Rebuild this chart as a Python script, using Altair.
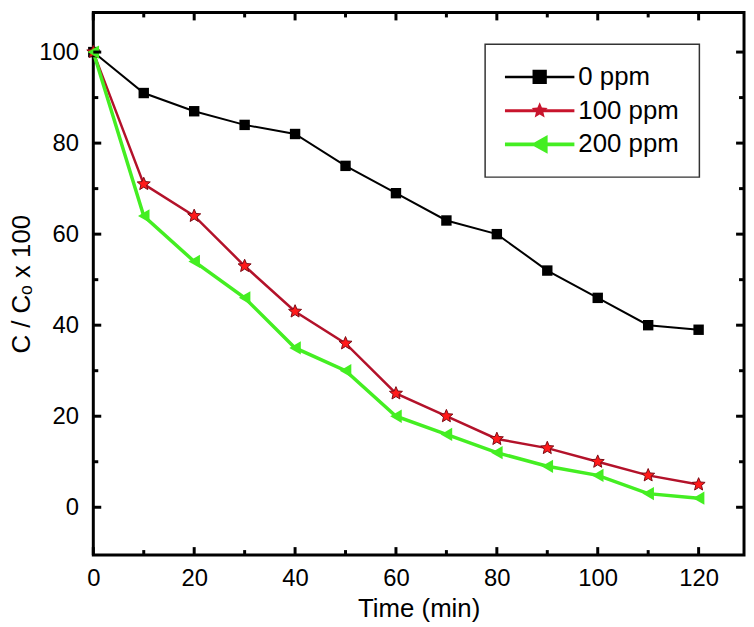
import altair as alt
import pandas as pd

# ---- data ----
time_min = [0, 10, 20, 30, 40, 50, 60, 70, 80, 90, 100, 110, 120]
series_names = ["0 ppm", "100 ppm", "200 ppm"]
c_0ppm = [100, 91, 87, 84, 82, 75, 69, 63, 60, 52, 46, 40, 39]
c_100ppm = [100, 71, 64, 53, 43, 36, 25, 20, 15, 13, 10, 7, 5]
c_200ppm = [100, 64, 54, 46, 35, 30, 20, 16, 12, 9, 7, 3, 2]
x_major_ticks = [0, 20, 40, 60, 80, 100, 120]
x_minor_ticks = [10, 30, 50, 70, 90, 110]
y_major_ticks = [0, 20, 40, 60, 80, 100]
y_minor_ticks = [10, 30, 50, 70, 90]

rows = []
for name, vals in zip(series_names, [c_0ppm, c_100ppm, c_200ppm]):
    for t, v in zip(time_min, vals):
        rows.append({"time": t, "value": v, "series": name})
df = pd.DataFrame(rows)

FONT = "Liberation Sans"
XDOM = [0, 129]
YDOM = [-10.5, 108.7]

# styles per series
line_colors = ["#000000", "#b3122a", "#44ee22"]
line_widths = [2, 2.5, 3.5]
STAR = ("M0,-1L0.265,-0.364L0.951,-0.309L0.428,0.139L0.588,0.809L0,0.45"
        "L-0.588,0.809L-0.428,0.139L-0.951,-0.309L-0.265,-0.364Z")
point_styles = [
    dict(shape="square", fill="#000000", size=110),
    dict(shape=STAR, fill="#ff1a1a", stroke="#7a0a14", strokeWidth=1, size=190),
    dict(shape="triangle-left", fill="#44ee22", size=180),
]
legend_colors = ["#000000", "#c8142c", "#44ee22"]
LEG_SQ = "M-3.5,-0.13H3.5V0.13H-3.5ZM-0.72,-0.72H0.72V0.72H-0.72Z"
LEG_STAR = ("M-3.5,-0.15H3.5V0.15H-3.5Z"
            "M0,-0.85L0.225,-0.309L0.808,-0.263L0.364,0.118L0.5,0.688L0,0.383"
            "L-0.5,0.688L-0.364,0.118L-0.808,-0.263L-0.225,-0.309Z")
LEG_TRI = "M-3.5,-0.18H3.5V0.18H-3.5ZM-0.9,0L0.8,-0.95L0.8,0.95Z"

xscale = alt.Scale(domain=XDOM, nice=False, zero=False)
yscale = alt.Scale(domain=YDOM, nice=False, zero=False)

x_bottom = alt.Axis(orient="bottom", values=x_major_ticks, ticks=False, tickSize=0,
                    domain=False, grid=False,
                    labelFont=FONT, labelFontSize=24, labelColor="black",
                    labelPadding=12, labelFlush=False, labelOverlap=False,
                    title="Time (min)", titleFont=FONT, titleFontSize=26,
                    titleFontWeight="normal", titleColor="black", titlePadding=5)
y_left = alt.Axis(orient="left", values=y_major_ticks, ticks=False, tickSize=0,
                  domain=False, grid=False,
                  labelFont=FONT, labelFontSize=24, labelColor="black",
                  labelPadding=15, labelFlush=False, labelOverlap=False,
                  title="C / Cₒ x 100", titleFont=FONT, titleFontSize=26,
                  titleFontWeight="normal", titleColor="black", titlePadding=4)


def X(ax):
    return alt.X("time:Q", scale=xscale, axis=ax)


def Y(ax):
    return alt.Y("value:Q", scale=yscale, axis=ax)


layers = []
base = alt.Chart(df)

# data lines (the first layer carries the visible axes)
for i, name in enumerate(series_names):
    sub = base.transform_filter(alt.datum.series == name)
    layers.append(sub.mark_line(color=line_colors[i], strokeWidth=line_widths[i]).encode(
        x=X(x_bottom if i == 0 else None), y=Y(y_left if i == 0 else None)))

# markers
for i, name in enumerate(series_names):
    sub = base.transform_filter(alt.datum.series == name)
    layers.append(sub.mark_point(filled=True, opacity=1, **point_styles[i]).encode(
        x=X(None), y=Y(None)))

# inward tick marks on all four sides (major 8px, minor 5px)
for vals, length in [(x_major_ticks, 8), (x_minor_ticks, 5)]:
    tdf = pd.DataFrame({"v": vals})
    for edge, sign in [(YDOM[0], -1), (YDOM[1], 1)]:
        layers.append(alt.Chart(tdf).mark_rule(color="black", strokeWidth=3, y2Offset=sign * length).encode(
            x=alt.X("v:Q", scale=xscale, axis=None),
            y=alt.YDatum(edge, type="quantitative", scale=yscale, axis=None),
            y2=alt.Y2Datum(edge),
        ))
for vals, length in [(y_major_ticks, 8), (y_minor_ticks, 5)]:
    tdf = pd.DataFrame({"v": vals})
    for edge, sign in [(XDOM[0], 1), (XDOM[1], -1)]:
        layers.append(alt.Chart(tdf).mark_rule(color="black", strokeWidth=3, x2Offset=sign * length).encode(
            y=alt.Y("v:Q", scale=yscale, axis=None),
            x=alt.XDatum(edge, type="quantitative", scale=xscale, axis=None),
            x2=alt.X2Datum(edge),
        ))

leg = alt.Legend(orient="none", legendX=395, legendY=32, title=None,
                 labelFont=FONT, labelFontSize=26, labelColor="black",
                 symbolSize=400, symbolOffset=22, labelOffset=26,
                 symbolStrokeWidth=0, padding=20, rowPadding=8,
                 strokeColor="#333333")

legend_layer = base.transform_filter("false").mark_point(filled=True, opacity=1, size=400).encode(
    x=X(None),
    y=Y(None),
    color=alt.Color("series:N", scale=alt.Scale(domain=series_names, range=legend_colors), legend=leg),
    shape=alt.Shape("series:N", scale=alt.Scale(domain=series_names, range=[LEG_SQ, LEG_STAR, LEG_TRI]), legend=leg),
)
layers.append(legend_layer)

chart = alt.layer(*layers).resolve_axis(
    x="independent", y="independent"
).properties(
    width=656, height=547,
    padding={"left": 0, "top": 0, "right": 0, "bottom": 0},
).configure_view(
    stroke="black", strokeWidth=3
).configure_legend(
    strokeWidth=1.5
)

chart.save("out.html", embed_options={"renderer": "svg", "actions": False})
